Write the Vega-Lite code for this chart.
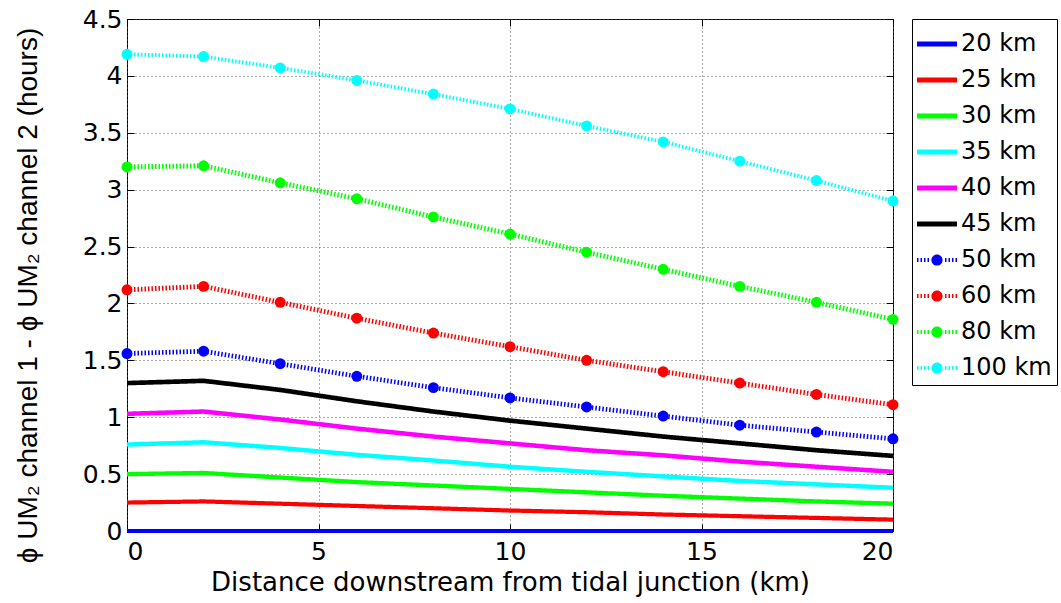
{
  "$schema": "https://vega.github.io/schema/vega-lite/v6.json",
  "width": 766,
  "height": 512,
  "autosize": "none",
  "padding": {"left": 127, "top": 19, "right": 168, "bottom": 72},
  "background": "white",
  "config": {
    "font": "DejaVu Sans",
    "view": {"stroke": "black", "strokeWidth": 1},
    "axis": {
      "domain": false,
      "labelFont": "DejaVu Sans",
      "labelFontSize": 25,
      "labelColor": "black",
      "titleFont": "DejaVu Sans",
      "titleFontSize": 26,
      "titleFontWeight": "normal",
      "titleColor": "black",
      "tickColor": "black",
      "tickSize": -7,
      "gridColor": "#555555",
      "gridDash": [1, 3],
      "gridWidth": 1,
      "gridOpacity": 1
    }
  },
  "data": {
    "values": [
      {"d": "20 km", "x": 0, "y": 0}, {"d": "20 km", "x": 2, "y": 0}, {"d": "20 km", "x": 4, "y": 0}, {"d": "20 km", "x": 6, "y": 0}, {"d": "20 km", "x": 8, "y": 0}, {"d": "20 km", "x": 10, "y": 0}, {"d": "20 km", "x": 12, "y": 0}, {"d": "20 km", "x": 14, "y": 0}, {"d": "20 km", "x": 16, "y": 0}, {"d": "20 km", "x": 18, "y": 0}, {"d": "20 km", "x": 20, "y": 0},
      {"d": "25 km", "x": 0, "y": 0.25}, {"d": "25 km", "x": 2, "y": 0.26}, {"d": "25 km", "x": 4, "y": 0.24}, {"d": "25 km", "x": 6, "y": 0.22}, {"d": "25 km", "x": 8, "y": 0.2}, {"d": "25 km", "x": 10, "y": 0.18}, {"d": "25 km", "x": 12, "y": 0.165}, {"d": "25 km", "x": 14, "y": 0.145}, {"d": "25 km", "x": 16, "y": 0.13}, {"d": "25 km", "x": 18, "y": 0.115}, {"d": "25 km", "x": 20, "y": 0.1},
      {"d": "30 km", "x": 0, "y": 0.5}, {"d": "30 km", "x": 2, "y": 0.51}, {"d": "30 km", "x": 4, "y": 0.47}, {"d": "30 km", "x": 6, "y": 0.43}, {"d": "30 km", "x": 8, "y": 0.4}, {"d": "30 km", "x": 10, "y": 0.37}, {"d": "30 km", "x": 12, "y": 0.34}, {"d": "30 km", "x": 14, "y": 0.31}, {"d": "30 km", "x": 16, "y": 0.285}, {"d": "30 km", "x": 18, "y": 0.26}, {"d": "30 km", "x": 20, "y": 0.24},
      {"d": "35 km", "x": 0, "y": 0.76}, {"d": "35 km", "x": 2, "y": 0.78}, {"d": "35 km", "x": 4, "y": 0.73}, {"d": "35 km", "x": 6, "y": 0.67}, {"d": "35 km", "x": 8, "y": 0.62}, {"d": "35 km", "x": 10, "y": 0.565}, {"d": "35 km", "x": 12, "y": 0.52}, {"d": "35 km", "x": 14, "y": 0.48}, {"d": "35 km", "x": 16, "y": 0.44}, {"d": "35 km", "x": 18, "y": 0.41}, {"d": "35 km", "x": 20, "y": 0.38},
      {"d": "40 km", "x": 0, "y": 1.03}, {"d": "40 km", "x": 2, "y": 1.05}, {"d": "40 km", "x": 4, "y": 0.98}, {"d": "40 km", "x": 6, "y": 0.9}, {"d": "40 km", "x": 8, "y": 0.83}, {"d": "40 km", "x": 10, "y": 0.77}, {"d": "40 km", "x": 12, "y": 0.71}, {"d": "40 km", "x": 14, "y": 0.665}, {"d": "40 km", "x": 16, "y": 0.61}, {"d": "40 km", "x": 18, "y": 0.565}, {"d": "40 km", "x": 20, "y": 0.52},
      {"d": "45 km", "x": 0, "y": 1.3}, {"d": "45 km", "x": 2, "y": 1.32}, {"d": "45 km", "x": 4, "y": 1.24}, {"d": "45 km", "x": 6, "y": 1.14}, {"d": "45 km", "x": 8, "y": 1.05}, {"d": "45 km", "x": 10, "y": 0.97}, {"d": "45 km", "x": 12, "y": 0.9}, {"d": "45 km", "x": 14, "y": 0.83}, {"d": "45 km", "x": 16, "y": 0.77}, {"d": "45 km", "x": 18, "y": 0.71}, {"d": "45 km", "x": 20, "y": 0.66},
      {"d": "50 km", "x": 0, "y": 1.56}, {"d": "50 km", "x": 2, "y": 1.58}, {"d": "50 km", "x": 4, "y": 1.47}, {"d": "50 km", "x": 6, "y": 1.36}, {"d": "50 km", "x": 8, "y": 1.26}, {"d": "50 km", "x": 10, "y": 1.17}, {"d": "50 km", "x": 12, "y": 1.09}, {"d": "50 km", "x": 14, "y": 1.01}, {"d": "50 km", "x": 16, "y": 0.93}, {"d": "50 km", "x": 18, "y": 0.87}, {"d": "50 km", "x": 20, "y": 0.81},
      {"d": "60 km", "x": 0, "y": 2.12}, {"d": "60 km", "x": 2, "y": 2.15}, {"d": "60 km", "x": 4, "y": 2.01}, {"d": "60 km", "x": 6, "y": 1.87}, {"d": "60 km", "x": 8, "y": 1.74}, {"d": "60 km", "x": 10, "y": 1.62}, {"d": "60 km", "x": 12, "y": 1.5}, {"d": "60 km", "x": 14, "y": 1.4}, {"d": "60 km", "x": 16, "y": 1.3}, {"d": "60 km", "x": 18, "y": 1.2}, {"d": "60 km", "x": 20, "y": 1.11},
      {"d": "80 km", "x": 0, "y": 3.2}, {"d": "80 km", "x": 2, "y": 3.21}, {"d": "80 km", "x": 4, "y": 3.06}, {"d": "80 km", "x": 6, "y": 2.92}, {"d": "80 km", "x": 8, "y": 2.76}, {"d": "80 km", "x": 10, "y": 2.61}, {"d": "80 km", "x": 12, "y": 2.45}, {"d": "80 km", "x": 14, "y": 2.3}, {"d": "80 km", "x": 16, "y": 2.15}, {"d": "80 km", "x": 18, "y": 2.01}, {"d": "80 km", "x": 20, "y": 1.86},
      {"d": "100 km", "x": 0, "y": 4.19}, {"d": "100 km", "x": 2, "y": 4.17}, {"d": "100 km", "x": 4, "y": 4.07}, {"d": "100 km", "x": 6, "y": 3.96}, {"d": "100 km", "x": 8, "y": 3.84}, {"d": "100 km", "x": 10, "y": 3.71}, {"d": "100 km", "x": 12, "y": 3.56}, {"d": "100 km", "x": 14, "y": 3.42}, {"d": "100 km", "x": 16, "y": 3.25}, {"d": "100 km", "x": 18, "y": 3.08}, {"d": "100 km", "x": 20, "y": 2.9}
    ]
  },
  "layer": [
    {
      "mark": {"type": "line", "clip": false},
      "encoding": {
        "x": {
          "field": "x", "type": "quantitative",
          "scale": {"domain": [0, 20], "nice": false},
          "axis": {"orient": "bottom", "values": [0, 5, 10, 15, 20], "title": "Distance downstream from tidal junction (km)", "labelPadding": 15, "titlePadding": 5, "grid": true}
        },
        "y": {
          "field": "y", "type": "quantitative",
          "scale": {"domain": [0, 4.5], "nice": false},
          "axis": {
            "orient": "left", "values": [0, 0.5, 1, 1.5, 2, 2.5, 3, 3.5, 4, 4.5], "format": "~g",
            "title": "ϕ UM₂   channel 1 - ϕ UM₂   channel 2 (hours)",
            "titleFont": "Liberation Sans", "titleFontSize": 28,
            "titleX": -85, "titleY": 276,
            "labelPadding": 12, "grid": true
          }
        },
        "stroke": {
          "field": "d", "type": "nominal",
          "scale": {"range": ["#00ffff", "#0000ff", "#ff0000", "#00ff00", "#00ffff", "#ff00ff", "#000000", "#0000ff", "#ff0000", "#00ff00"]},
          "legend": null
        },
        "strokeDash": {
          "field": "d", "type": "nominal",
          "scale": {"range": [[1.5, 2], [1, 0], [1, 0], [1, 0], [1, 0], [1, 0], [1, 0], [1.5, 2], [1.5, 2], [1.5, 2]]},
          "legend": null
        },
        "strokeWidth": {
          "field": "d", "type": "nominal",
          "scale": {"range": [4, 5, 5, 5, 5, 5, 5, 4, 4, 4]},
          "legend": null
        }
      }
    },
    {
      "transform": [{"filter": "indexof(['50 km','60 km','80 km','100 km'], datum.d) >= 0"}],
      "mark": {"type": "point", "shape": "circle", "filled": true, "size": 120, "opacity": 1, "clip": false},
      "encoding": {
        "x": {"field": "x", "type": "quantitative", "axis": {"orient": "top", "values": [0, 5, 10, 15, 20], "labels": false, "title": null, "grid": false}},
        "y": {"field": "y", "type": "quantitative", "axis": {"orient": "right", "values": [0, 0.5, 1, 1.5, 2, 2.5, 3, 3.5, 4, 4.5], "labels": false, "title": null, "grid": false}},
        "fill": {
          "field": "d", "type": "nominal",
          "scale": {"range": ["#00ffff", "#0000ff", "#ff0000", "#00ff00"]},
          "legend": null
        }
      }
    },
    {
      "transform": [{"filter": "false"}],
      "mark": {"type": "point", "filled": true, "size": 1600, "opacity": 1},
      "encoding": {
        "x": {"field": "x", "type": "quantitative", "axis": null},
        "y": {"field": "y", "type": "quantitative", "axis": null},
        "color": {
          "field": "d", "type": "nominal",
          "scale": {
            "domain": ["20 km", "25 km", "30 km", "35 km", "40 km", "45 km", "50 km", "60 km", "80 km", "100 km"],
            "range": ["#0000ff", "#ff0000", "#00ff00", "#00ffff", "#ff00ff", "#000000", "#0000ff", "#ff0000", "#00ff00", "#00ffff"]
          },
          "legend": {
            "orient": "none", "legendX": 785, "legendY": 0,
            "title": null,
            "strokeColor": "black", "fillColor": "white", "cornerRadius": 0,
            "padding": 5,
            "symbolSize": 1600, "symbolStrokeWidth": 0, "symbolOpacity": 1,
            "labelFont": "DejaVu Sans", "labelFontSize": 24, "labelColor": "black", "labelOffset": 4,
            "rowPadding": 4
          }
        },
        "shape": {
          "field": "d", "type": "nominal",
          "scale": {
            "domain": ["20 km", "25 km", "30 km", "35 km", "40 km", "45 km", "50 km", "60 km", "80 km", "100 km"],
            "range": [
              "M-1,-0.125H1V0.125H-1Z",
              "M-1,-0.125H1V0.125H-1Z",
              "M-1,-0.125H1V0.125H-1Z",
              "M-1,-0.125H1V0.125H-1Z",
              "M-1,-0.125H1V0.125H-1Z",
              "M-1,-0.125H1V0.125H-1Z",
              "M-1,-0.1h0.075v0.2h-0.075ZM-0.825,-0.1h0.075v0.2h-0.075ZM-0.65,-0.1h0.075v0.2h-0.075ZM-0.475,-0.1h0.075v0.2h-0.075ZM0.4,-0.1h0.075v0.2h-0.075ZM0.575,-0.1h0.075v0.2h-0.075ZM0.75,-0.1h0.075v0.2h-0.075ZM0.925,-0.1h0.075v0.2h-0.075ZM-0.28,0A0.28,0.28 0 1,0 0.28,0A0.28,0.28 0 1,0 -0.28,0Z",
              "M-1,-0.1h0.075v0.2h-0.075ZM-0.825,-0.1h0.075v0.2h-0.075ZM-0.65,-0.1h0.075v0.2h-0.075ZM-0.475,-0.1h0.075v0.2h-0.075ZM0.4,-0.1h0.075v0.2h-0.075ZM0.575,-0.1h0.075v0.2h-0.075ZM0.75,-0.1h0.075v0.2h-0.075ZM0.925,-0.1h0.075v0.2h-0.075ZM-0.28,0A0.28,0.28 0 1,0 0.28,0A0.28,0.28 0 1,0 -0.28,0Z",
              "M-1,-0.1h0.075v0.2h-0.075ZM-0.825,-0.1h0.075v0.2h-0.075ZM-0.65,-0.1h0.075v0.2h-0.075ZM-0.475,-0.1h0.075v0.2h-0.075ZM0.4,-0.1h0.075v0.2h-0.075ZM0.575,-0.1h0.075v0.2h-0.075ZM0.75,-0.1h0.075v0.2h-0.075ZM0.925,-0.1h0.075v0.2h-0.075ZM-0.28,0A0.28,0.28 0 1,0 0.28,0A0.28,0.28 0 1,0 -0.28,0Z",
              "M-1,-0.1h0.075v0.2h-0.075ZM-0.825,-0.1h0.075v0.2h-0.075ZM-0.65,-0.1h0.075v0.2h-0.075ZM-0.475,-0.1h0.075v0.2h-0.075ZM0.4,-0.1h0.075v0.2h-0.075ZM0.575,-0.1h0.075v0.2h-0.075ZM0.75,-0.1h0.075v0.2h-0.075ZM0.925,-0.1h0.075v0.2h-0.075ZM-0.28,0A0.28,0.28 0 1,0 0.28,0A0.28,0.28 0 1,0 -0.28,0Z"
            ]
          }
        }
      }
    }
  ],
  "resolve": {"axis": {"x": "independent", "y": "independent"}}
}
